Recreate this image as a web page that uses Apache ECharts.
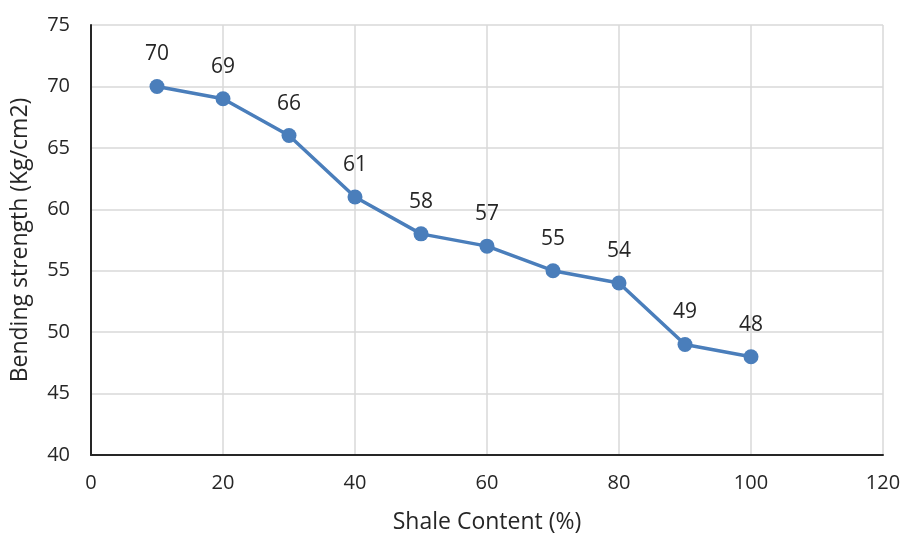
<!DOCTYPE html>
<html>
<head>
<meta charset="utf-8">
<script src="https://cdn.jsdelivr.net/npm/echarts@6/dist/echarts.min.js"></script>
<style>
  html, body { margin: 0; padding: 0; background: #fff; }
  #chart { width: 902px; height: 535px; }
</style>
</head>
<body>
<div id="chart"></div>
<script>
// Shale content (%) vs. bending strength (Kg/cm2)
const shaleContent = [10, 20, 30, 40, 50, 60, 70, 80, 90, 100];
const bendingStrength = [70, 69, 66, 61, 58, 57, 55, 54, 49, 48];

const xTicks = { min: 0, max: 120, interval: 20 };
const yTicks = { min: 40, max: 75, interval: 5 };

const FONT = '"Open Sans", sans-serif';
const TEXT = '#262626';

const chart = echarts.init(document.getElementById('chart'), null, { renderer: 'canvas' });

chart.setOption({
  animation: false,
  backgroundColor: '#ffffff',
  grid: { left: 91, right: 19, top: 25, bottom: 80, containLabel: false, outerBoundsMode: 'none' },
  xAxis: {
    type: 'value',
    min: xTicks.min, max: xTicks.max, interval: xTicks.interval,
    name: 'Shale Content (%)',
    nameLocation: 'middle',
    nameGap: 56,
    nameTextStyle: { fontFamily: FONT, fontSize: 23, color: TEXT },
    axisLine: { show: true, onZero: false, lineStyle: { color: '#262626', width: 2 } },
    axisTick: { show: false },
    axisLabel: { fontFamily: FONT, fontSize: 20, color: TEXT, margin: 18 },
    splitLine: { show: true, lineStyle: { color: '#d9d9d9', width: 1.5 } }
  },
  yAxis: {
    type: 'value',
    min: yTicks.min, max: yTicks.max, interval: yTicks.interval,
    name: 'Bending strength (Kg/cm2)',
    nameLocation: 'middle',
    nameGap: 59,
    nameRotate: 90,
    nameTextStyle: { fontFamily: FONT, fontSize: 23, color: TEXT },
    axisLine: { show: true, onZero: false, lineStyle: { color: '#262626', width: 2 } },
    axisTick: { show: false },
    axisLabel: { fontFamily: FONT, fontSize: 20, color: TEXT, margin: 21 },
    splitLine: { show: true, lineStyle: { color: '#d9d9d9', width: 1.5 } }
  },
  series: [{
    type: 'line',
    data: shaleContent.map((x, i) => [x, bendingStrength[i]]),
    symbol: 'circle',
    symbolSize: 15,
    lineStyle: { color: '#4a7ebb', width: 3.5 },
    itemStyle: { color: '#4a7ebb' },
    label: {
      show: true,
      position: 'top',
      distance: 14,
      fontFamily: FONT,
      fontSize: 21,
      color: TEXT,
      formatter: p => p.value[1]
    }
  }]
});
</script>
</body>
</html>
